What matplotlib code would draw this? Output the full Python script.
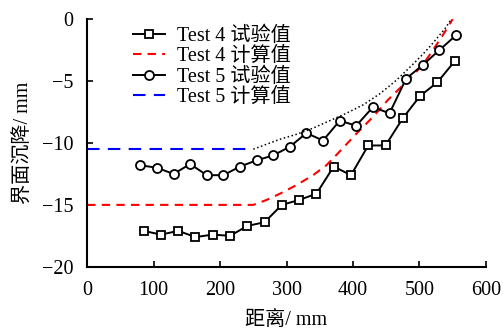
import matplotlib
import numpy as np
import matplotlib.pyplot as plt

matplotlib.use('Agg')
plt.rcParams['font.family'] = ['Liberation Serif', 'Noto Sans CJK SC']
plt.rcParams['font.size'] = 14.5
plt.rcParams['axes.unicode_minus'] = True

# Test 4 measured (squares)
x4 = [85, 111, 137, 163, 189, 215, 241, 267, 293, 319, 345, 371, 397,
      423, 449, 475, 501, 527, 553]
y4 = [-17.1, -17.4, -17.1, -17.6, -17.4, -17.5, -16.7, -16.4, -15.0, -14.6,
      -14.1, -11.9, -12.6, -10.2, -10.2, -8.0, -6.2, -5.1, -3.4]

# Test 5 measured (circles)
x5 = [80, 105, 130, 155, 180, 205, 230, 255, 280, 305, 330, 355, 380, 405,
      430, 455, 480, 505, 530, 555]
y5 = [-11.8, -12.0, -12.5, -11.7, -12.6, -12.6, -11.9, -11.4, -11.0, -10.3,
      -9.2, -9.8, -8.2, -8.6, -7.1, -7.6, -4.8, -3.7, -2.5, -1.3]

# Test 4 calculated
x4c = [0, 250, 270, 290, 315, 340, 360, 378, 392, 406, 430, 453, 472, 491,
       503, 514, 524, 534, 542, 550]
y4c = [-15.0, -15.0, -14.6, -14.1, -13.4, -12.6, -11.8, -10.8, -10.0, -9.2,
       -7.9, -6.5, -5.5, -4.5, -3.8, -3.0, -2.2, -1.4, -0.7, 0.0]

# Test 5 calculated
x5c = [0, 250]
y5c = [-10.5, -10.5]

# extension of Test 5 calculation (dotted)
x5d = [250, 270, 290, 315, 340, 365, 390, 416, 441, 466, 491, 504, 516,
       527, 538, 548]
y5d = [-10.5, -10.1, -9.7, -9.3, -8.8, -8.2, -7.6, -6.9, -6.0, -4.9, -3.6,
       -2.9, -2.2, -1.5, -0.8, 0.0]

fig = plt.figure(figsize=(5.04, 3.31), dpi=100)
ax = fig.add_axes([0.173, 0.194, 0.791, 0.748])

ax.plot(x4, y4, 'k-s', lw=1.4, ms=6, mfc='white', mec='k', mew=1.3,
        label='Test 4 试验值')
ax.plot(x4c, y4c, '--', color='red', lw=1.5, dashes=(4, 3),
        label='Test 4 计算值')
ax.plot(x5, y5, 'k-o', lw=1.4, ms=6.5, mfc='white', mec='k', mew=1.3,
        label='Test 5 试验值')
ax.plot(x5c, y5c, '--', color='blue', lw=1.5, dashes=(6, 4),
        label='Test 5 计算值')
ax.plot(x5d, y5d, ':', color='k', lw=1.1)

ax.set_xlim(0, 600)
ax.set_ylim(-20, 0)
ax.set_xticks(range(0, 601, 100))
ax.set_yticks(range(-20, 1, 5))
ax.spines['top'].set_visible(False)
ax.spines['right'].set_visible(False)
ax.tick_params(direction='in', length=4, width=1.2)
ax.tick_params(axis='x', pad=10)
ax.tick_params(axis='y', pad=10)
for s in ('left', 'bottom'):
    ax.spines[s].set_linewidth(1.5)

ax.set_xlabel('距离/ mm', labelpad=8)
ax.set_ylabel('界面沉降/ mm', labelpad=6)

ax.legend(loc='upper left', bbox_to_anchor=(0.115, 0.97), frameon=False,
          handlelength=1.6, labelspacing=0.06, borderpad=0, borderaxespad=0,
          handletextpad=0.6)

fig.savefig('out.png', dpi=100)
